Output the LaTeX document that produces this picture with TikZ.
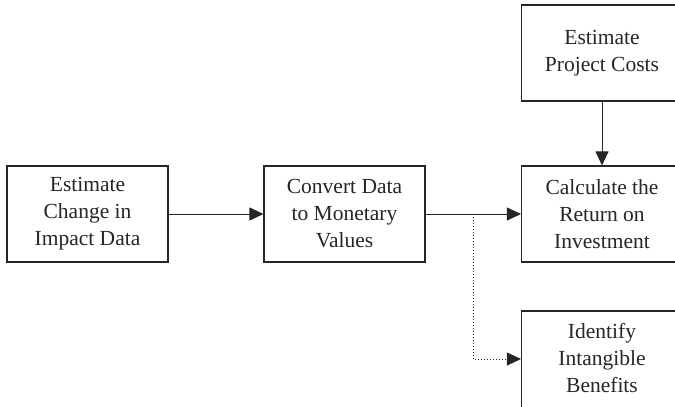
\documentclass[tikz,border=0pt]{standalone}
\usepackage{fontspec}
\setmainfont{Liberation Serif}
\usetikzlibrary{arrows.meta}
\begin{document}
\begin{tikzpicture}[x=1pt,y=-1pt,
  stepbox/.style={draw=black!85, line width=1.1pt, minimum width=161pt, minimum height=96pt,
    align=center, inner sep=0pt, font=\fontsize{21.5}{27}\selectfont, text=black!85},
  flow/.style={line width=1pt, draw=black!85, -{Triangle[length=14pt,width=13pt]}},
  dotflow/.style={flow, dotted}]
\useasboundingbox (0,0) rectangle (675,407);
\node[stepbox] (impact) at (87.5,214) {Estimate\\Change in\\Impact Data};
\node[stepbox] (convert) at (344.5,214) {Convert Data\\to Monetary\\Values};
\node[stepbox] (roi) at (602,214) {Calculate the\\Return on\\Investment};
\node[stepbox] (costs) at (602,53) {Estimate\\Project Costs};
% box runs past the lower edge; text sits a little above its middle
\node[stepbox, minimum height=101pt, text depth=8pt] (intang) at (602,361.5) {Identify\\Intangible\\Benefits};
\coordinate (split) at (473,214);
\draw[flow] (impact) -- (convert);
\draw[flow] (convert) -- (roi);
\draw[flow] (costs) -- (roi);
\draw[dotflow] (split) |- ([yshift=2.5pt]intang.west);
\end{tikzpicture}
\end{document}
